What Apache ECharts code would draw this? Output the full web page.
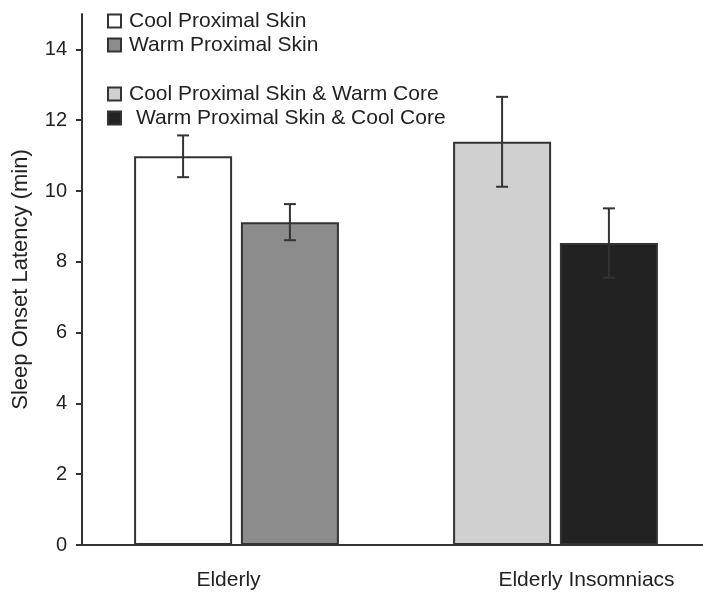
<!DOCTYPE html>
<html>
<head>
<meta charset="utf-8">
<script src="https://cdn.jsdelivr.net/npm/echarts@6/dist/echarts.min.js"></script>
<style>
  html, body { margin: 0; padding: 0; background: #ffffff; }
  #chart { width: 703px; height: 594px; }
</style>
</head>
<body>
<div id="chart"></div>
<script>
// ---- data ----
var categories = ['Elderly', 'Elderly Insomniacs'];
var seriesNames = [
  'Cool Proximal Skin',
  'Warm Proximal Skin',
  'Cool Proximal Skin & Warm Core',
  'Warm Proximal Skin & Cool Core'
];
var coolSkin = [10.98, null];
var warmSkin = [9.12, null];
var coolSkinWarmCore = [null, 11.39];
var warmSkinCoolCore = [null, 8.53];
var coolSkinErr = [0.59, null];
var warmSkinErr = [0.51, null];
var coolSkinWarmCoreErr = [null, 1.27];
var warmSkinCoolCoreErr = [null, 0.98];
var yTicks = [0, 2, 4, 6, 8, 10, 12, 14];

// ---- styling ----
var FONT = "'Liberation Sans', Arial, Helvetica, sans-serif";
var TXT = '#222222';
var LINE = '#333333';
var BAR_W = 98;
var GAP_PCT = 9;
var fills = ['#ffffff', '#8c8c8c', '#d0d0d0', '#222222'];
var stacks = ['left', 'right', 'left', 'right'];
var values = [coolSkin, warmSkin, coolSkinWarmCore, warmSkinCoolCore];
var errs = [coolSkinErr, warmSkinErr, coolSkinWarmCoreErr, warmSkinCoolCoreErr];

var barSeries = seriesNames.map(function (name, i) {
  return {
    name: name,
    type: 'bar',
    stack: stacks[i],
    data: values[i],
    barWidth: BAR_W,
    barGap: GAP_PCT + '%',
    itemStyle: { color: fills[i], borderColor: LINE, borderWidth: 2 },
    emphasis: { disabled: true },
    z: 2
  };
});

// error bar data: [categoryIndex, mean, err, slot]
var errData = [];
values.forEach(function (vals, i) {
  vals.forEach(function (v, c) {
    if (v != null && errs[i][c] != null) {
      errData.push([c, v, errs[i][c], stacks[i] === 'left' ? -1 : 1]);
    }
  });
});

var errSeries = {
  type: 'custom',
  name: 'err',
  data: errData,
  z: 10,
  silent: true,
  renderItem: function (params, api) {
    var c = api.value(0), m = api.value(1), e = api.value(2), s = api.value(3);
    var off = s * (BAR_W + BAR_W * GAP_PCT / 100) / 2;
    var top = api.coord([c, m + e]);
    var bot = api.coord([c, m - e]);
    var x = top[0] + off;
    var cap = 6;
    var st = { stroke: LINE, lineWidth: 2 };
    return {
      type: 'group',
      children: [
        { type: 'line', shape: { x1: x, y1: top[1], x2: x, y2: bot[1] }, style: st },
        { type: 'line', shape: { x1: x - cap, y1: top[1], x2: x + cap, y2: top[1] }, style: st },
        { type: 'line', shape: { x1: x - cap, y1: bot[1], x2: x + cap, y2: bot[1] }, style: st }
      ]
    };
  }
};

var legendCommon = {
  orient: 'vertical',
  left: 102,
  icon: 'rect',
  itemWidth: 13,
  itemHeight: 13,
  itemGap: 0,
  selectedMode: false,
  textStyle: { fontFamily: FONT, fontSize: 21, color: TXT, lineHeight: 24, padding: [0, 0, 0, 3] }
};

var chart = echarts.init(document.getElementById('chart'), null, { renderer: 'canvas' });
chart.setOption({
  animation: false,
  backgroundColor: '#ffffff',
  textStyle: { fontFamily: FONT },
  legend: [
    Object.assign({}, legendCommon, {
      top: 4,
      data: [seriesNames[0], seriesNames[1]]
    }),
    Object.assign({}, legendCommon, {
      top: 77,
      data: [
        { name: seriesNames[2] },
        { name: seriesNames[3], textStyle: { padding: [0, 0, 0, 10] } }
      ]
    })
  ],
  grid: { left: 77, top: 14, width: 638, bottom: 49, containLabel: false, outerBoundsMode: 'none' },
  xAxis: {
    type: 'category',
    data: categories,
    axisLine: { lineStyle: { color: LINE, width: 2 } },
    axisTick: { show: false },
    axisLabel: {
      margin: 25,
      fontFamily: FONT,
      fontSize: 21,
      color: TXT,
      formatter: function (v, i) { return i === 0 ? '{a|' + v + '}' : '{b|' + v + '}'; },
      rich: {
        a: { fontFamily: FONT, fontSize: 21, color: TXT, padding: [0, 16, 0, 0] },
        b: { fontFamily: FONT, fontSize: 21, color: TXT, padding: [0, 0, 0, 62] }
      }
    }
  },
  yAxis: {
    type: 'value',
    min: 0,
    max: 15,
    interval: 2,
    offset: -5,
    name: 'Sleep Onset Latency (min)',
    nameLocation: 'middle',
    nameGap: 50,
    nameTextStyle: { fontFamily: FONT, fontSize: 22, color: TXT },
    axisLine: { show: true, lineStyle: { color: LINE, width: 2 } },
    axisTick: { show: true, length: 6, lineStyle: { color: LINE, width: 2 }, customValues: yTicks },
    axisLabel: { margin: 15, fontFamily: FONT, fontSize: 20, color: TXT, customValues: yTicks },
    splitLine: { show: false }
  },
  series: barSeries.concat([errSeries])
});
</script>
</body>
</html>
